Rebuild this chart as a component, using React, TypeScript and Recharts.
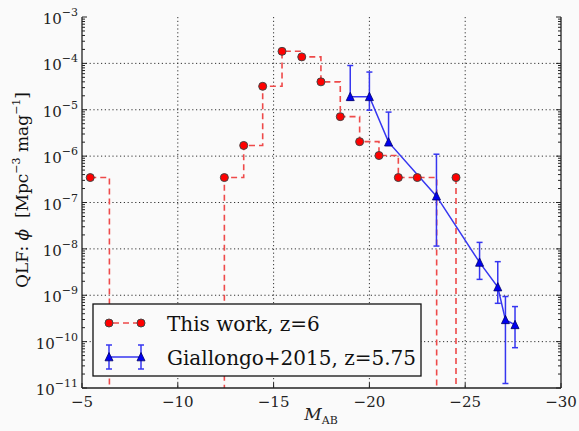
import { LineChart, Line, XAxis, YAxis, CartesianGrid, ErrorBar } from 'recharts';

// This work, z=6 (zero bins kept as 0)
const thisWorkMag = [-5.43, -6.43, -7.43, -8.43, -9.43, -10.43, -11.43, -12.43, -13.44, -14.43, -15.44, -16.47, -17.47, -18.48, -19.49, -20.5, -21.51, -22.5, -23.51, -24.52];
const thisWorkPhi = [3.45e-7, 0, 0, 0, 0, 0, 0, 3.45e-7, 1.7e-6, 3.2e-5, 1.82e-4, 1.38e-4, 4.0e-5, 7.1e-6, 2.05e-6, 1.03e-6, 3.45e-7, 3.45e-7, 0, 3.45e-7];

// Giallongo+2015, z=5.75
const giMag = [-19.0, -20.0, -21.0, -23.5, -25.75, -26.7, -27.1, -27.6];
const giPhi = [1.9e-5, 1.9e-5, 2.0e-6, 1.37e-7, 5.1e-9, 1.5e-9, 2.95e-10, 2.3e-10];
const giHigh = [9.0e-5, 6.5e-5, 8.9e-6, 1.1e-6, 1.38e-8, 5.3e-9, 9.4e-10, 5.7e-10];
const giLow = [1.6e-5, 9.8e-6, 1.7e-6, 1.15e-8, 2.2e-9, 6.7e-10, 1.25e-11, 7.4e-11];

const xTicks = [-5, -10, -15, -20, -25, -30];
const yExps = [-11, -10, -9, -8, -7, -6, -5, -4, -3];

const FONT = 'DejaVu Serif';
const BG = '#fafafa';
const RED = '#ee4a4a';
const BLUE = '#3636f0';
const FLOOR = 1e-14;

const yMajor = yExps.map((e) => Math.pow(10, e));
const yAll: number[] = [];
yExps.forEach((e, i) => {
  yAll.push(Math.pow(10, e));
  if (i < yExps.length - 1) for (let k = 2; k <= 9; k++) yAll.push(k * Math.pow(10, e));
});
const isMajor = (v: number) => yMajor.some((m) => Math.abs(m - v) / m < 1e-6);

const redData = thisWorkMag.map((m, i) => ({
  mag: m,
  phi: thisWorkPhi[i] > 0 ? thisWorkPhi[i] : FLOOR,
  raw: thisWorkPhi[i],
}));
const giData = giMag.map((m, i) => ({
  mag: m,
  phi: giPhi[i],
  err: [giPhi[i] - giLow[i], giHigh[i] - giPhi[i]],
}));

const fmtMinus = (v: number) => (v < 0 ? `\u2212${Math.abs(v)}` : `${v}`);

function BottomTick({ x, y, payload }: any) {
  return (
    <g>
      <line x1={x} x2={x} y1={y} y2={y - 5} stroke="#222" strokeWidth={1} />
      <text x={x} y={y + 19} textAnchor="middle" style={{ fontFamily: FONT }} fontSize={15} fill="#222">
        {fmtMinus(payload.value)}
      </text>
    </g>
  );
}

function TopTick({ x, y }: any) {
  return <line x1={x} x2={x} y1={y} y2={y + 5} stroke="#222" strokeWidth={1} />;
}

function LeftTick({ x, y, payload }: any) {
  const major = isMajor(payload.value);
  const exp = Math.round(Math.log10(payload.value));
  return (
    <g>
      <line x1={x} x2={x + (major ? 5 : 3)} y1={y} y2={y} stroke="#222" strokeWidth={1} />
      {major && (
        <text x={x - 4} y={y + 7} textAnchor="end" style={{ fontFamily: FONT }} fill="#222">
          <tspan fontSize={15}>10</tspan>
          <tspan fontSize={11} dy={-8}>{fmtMinus(exp)}</tspan>
        </text>
      )}
    </g>
  );
}

function RightTick({ x, y, payload }: any) {
  const major = isMajor(payload.value);
  return <line x1={x} x2={x - (major ? 5 : 3)} y1={y} y2={y} stroke="#222" strokeWidth={1} />;
}

function RedDot({ cx, cy, payload }: any) {
  if (!(payload.raw > 0)) return <g />;
  return <circle cx={cx} cy={cy} r={4} fill="#ff0000" stroke="#444" strokeWidth={1} />;
}

function Tri({ cx, cy }: any) {
  return (
    <polygon
      points={`${cx},${cy - 4.5} ${cx - 4},${cy + 3.8} ${cx + 4},${cy + 3.8}`}
      fill="#0000f0"
      stroke="#000066"
      strokeWidth={0.8}
    />
  );
}

function LegendBox() {
  return (
    <svg width={330} height={74} style={{ position: 'absolute', left: 92, top: 303 }}>
      <rect x={1} y={1} width={328} height={72} fill={BG} stroke="#111" strokeWidth={1.3} />
      <line x1={17} x2={49} y1={20} y2={20} stroke={RED} strokeWidth={1.6} strokeDasharray="6 4" strokeDashoffset={-4} />
      <circle cx={17} cy={20} r={4} fill="#ff0000" stroke="#444" strokeWidth={1} />
      <circle cx={49} cy={20} r={4} fill="#ff0000" stroke="#444" strokeWidth={1} />
      <text x={75} y={28} style={{ fontFamily: FONT }} fontSize={20} fill="#111">This work, z=6</text>
      <line x1={17} x2={49} y1={54} y2={54} stroke={BLUE} strokeWidth={1.5} />
      {[17, 49].map((cx) => (
        <g key={cx}>
          <line x1={cx} x2={cx} y1={42} y2={66} stroke={BLUE} strokeWidth={1.5} />
          <line x1={cx - 3} x2={cx + 3} y1={42} y2={42} stroke={BLUE} strokeWidth={1.5} />
          <line x1={cx - 3} x2={cx + 3} y1={66} y2={66} stroke={BLUE} strokeWidth={1.5} />
          <Tri cx={cx} cy={54} />
        </g>
      ))}
      <text x={75} y={62} style={{ fontFamily: FONT }} fontSize={20} fill="#111">Giallongo+2015, z=5.75</text>
    </svg>
  );
}

export default function App() {
  return (
    <div style={{ position: 'absolute', left: 0, top: 0, width: 579, height: 431, background: BG }}>
      <LineChart width={579} height={431} margin={{ top: 17, right: 0, bottom: 0, left: 0 }}>
        <CartesianGrid
          stroke="#333"
          strokeDasharray="1.2 2.6"
          horizontalValues={yMajor.slice(1, -1)}
          verticalValues={[-10, -15, -20, -25]}
        />
        <XAxis
          dataKey="mag"
          type="number"
          domain={[-30, -5]}
          reversed
          ticks={xTicks}
          interval={0}
          height={43}
          tickSize={0}
          tickMargin={0}
          tick={<BottomTick />}
          axisLine={{ stroke: '#222', strokeWidth: 1.3 }}
          allowDataOverflow
        />
        <XAxis
          xAxisId="top"
          orientation="top"
          dataKey="mag"
          type="number"
          domain={[-30, -5]}
          reversed
          ticks={xTicks}
          interval={0}
          height={0}
          tickSize={0}
          tickMargin={0}
          tick={<TopTick />}
          axisLine={{ stroke: '#222', strokeWidth: 1.3 }}
          allowDataOverflow
        />
        <YAxis
          scale="log"
          type="number"
          domain={[1e-11, 1e-3]}
          ticks={yAll}
          interval={0}
          width={82}
          tickSize={0}
          tickMargin={0}
          tick={<LeftTick />}
          axisLine={{ stroke: '#222', strokeWidth: 1.3 }}
          allowDataOverflow
        />
        <YAxis
          yAxisId="right"
          orientation="right"
          scale="log"
          type="number"
          domain={[1e-11, 1e-3]}
          ticks={yAll}
          interval={0}
          width={18}
          tickSize={0}
          tickMargin={0}
          tick={<RightTick />}
          axisLine={{ stroke: '#222', strokeWidth: 1.3 }}
          allowDataOverflow
        />
        <Line
          data={redData}
          dataKey="phi"
          type="stepAfter"
          stroke={RED}
          strokeWidth={1.6}
          strokeDasharray="6 4"
          dot={<RedDot />}
          activeDot={false}
          isAnimationActive={false}
        />
        <Line
          data={giData}
          dataKey="phi"
          type="linear"
          stroke={BLUE}
          strokeWidth={1.5}
          dot={<Tri />}
          activeDot={false}
          isAnimationActive={false}
        >
          <ErrorBar dataKey="err" direction="y" width={3} stroke={BLUE} strokeWidth={1.5} />
        </Line>
      </LineChart>
      <svg width={579} height={431} style={{ position: 'absolute', left: 0, top: 0, pointerEvents: 'none' }}>
        <text
          transform="translate(28,190) rotate(-90)"
          textAnchor="middle"
          style={{ fontFamily: FONT }}
          fontSize={17}
          fill="#111"
        >
          <tspan>QLF: </tspan>
          <tspan fontStyle="italic">{'\u03d5'}</tspan>
          <tspan>{'\u00a0\u00a0[Mpc'}</tspan>
          <tspan fontSize={11} dy={-8}>{'\u22123'}</tspan>
          <tspan dy={8}>{' mag'}</tspan>
          <tspan fontSize={11} dy={-8}>{'\u22121'}</tspan>
          <tspan dy={8}>]</tspan>
        </text>
        <text x={321} y={420} textAnchor="middle" style={{ fontFamily: FONT }} fill="#222">
          <tspan fontSize={17} fontStyle="italic">M</tspan>
          <tspan fontSize={11} dy={4}>AB</tspan>
        </text>
      </svg>
      <LegendBox />
    </div>
  );
}
